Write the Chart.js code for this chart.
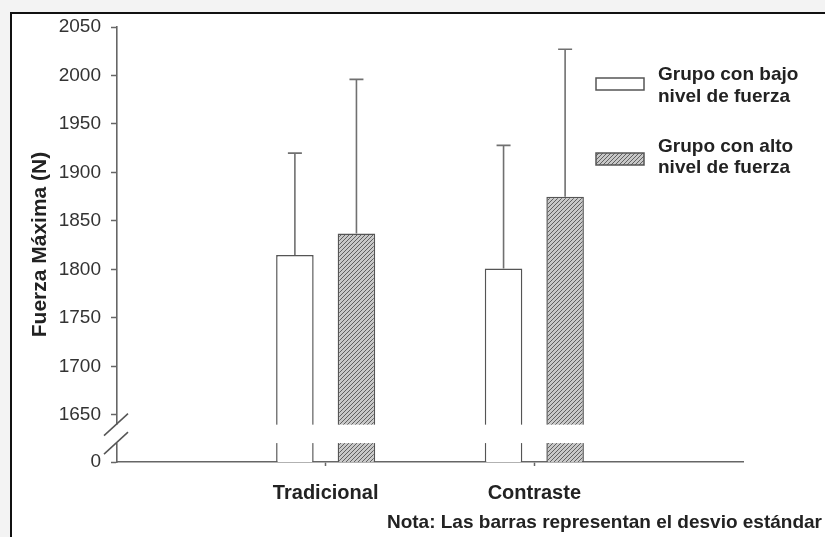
<!DOCTYPE html>
<html>
<head>
<meta charset="utf-8">
<script src="https://cdn.jsdelivr.net/npm/chart.js@4/dist/chart.umd.min.js"></script>
<style>
  html, body { margin: 0; padding: 0; background: #f3f3f3; }
  #frame { position: absolute; left: 10px; top: 12px; width: 830px; height: 540px;
           background: #ffffff; border-left: 2px solid #111; border-top: 2px solid #111; }
  #wrap { position: absolute; left: 0; top: 0; width: 825px; height: 537px; }
</style>
</head>
<body>
<div id="frame"></div>
<div id="wrap"><canvas id="c" width="825" height="537"></canvas></div>
<script>
// ---- data ----
const categories = ['Tradicional', 'Contraste'];
const seriesNames = ['Grupo con bajo nivel de fuerza', 'Grupo con alto nivel de fuerza'];
const legendLines = [['Grupo con bajo', 'nivel de fuerza'], ['Grupo con alto', 'nivel de fuerza']];
const bajoValues = [1815, 1801];
const altoValues = [1837, 1875];
const bajoSD = [105, 127];
const altoSD = [159, 152];
const yTickValues = [1650, 1700, 1750, 1800, 1850, 1900, 1950, 2000, 2050];
const axisFloor = 1601.5;      // value position that is labelled "0" (broken axis)
const breakRange = [1621, 1640]; // broken band of the axis / bars
const noteText = 'Nota: Las barras representan el desvio estándar';
const yTitle = 'Fuerza Máxima (N)';

// ---- hatch pattern ----
function makeHatch() {
  const p = document.createElement('canvas');
  p.width = 4; p.height = 4;
  const g = p.getContext('2d');
  g.fillStyle = '#c8c8c8';
  g.fillRect(0, 0, 4, 4);
  g.strokeStyle = '#606060';
  g.lineWidth = 1.0;
  g.beginPath();
  g.moveTo(-1, 5); g.lineTo(5, -1);
  g.moveTo(-1, 1); g.lineTo(1, -1);
  g.moveTo(3, 5); g.lineTo(5, 3);
  g.stroke();
  return document.getElementById('c').getContext('2d').createPattern(p, 'repeat');
}
const hatch = makeHatch();

const labels = [''].concat(categories, ['']);
const pad = arr => [null].concat(arr, [null]);
const sdSets = [pad(bajoSD), pad(altoSD)];

const FONT = "'Liberation Sans', Arial, sans-serif";

const extrasPlugin = {
  id: 'extras',
  afterDatasetsDraw(chart) {
    const ctx = chart.ctx;
    const y = chart.scales.y;
    const area = chart.chartArea;
    ctx.save();
    // error bars (upward only)
    chart.data.datasets.forEach((ds, di) => {
      const meta = chart.getDatasetMeta(di);
      meta.data.forEach((bar, i) => {
        const v = ds.data[i];
        if (v == null) return;
        const top = y.getPixelForValue(v + sdSets[di][i]);
        const base = y.getPixelForValue(v);
        ctx.strokeStyle = '#707070';
        ctx.lineWidth = 1.6;
        ctx.beginPath();
        ctx.moveTo(bar.x, base);
        ctx.lineTo(bar.x, top);
        ctx.moveTo(bar.x - 7, top);
        ctx.lineTo(bar.x + 7, top);
        ctx.stroke();
      });
    });
    // axis break band
    const yHi = y.getPixelForValue(breakRange[1]);
    const yLo = y.getPixelForValue(breakRange[0]);
    ctx.fillStyle = '#ffffff';
    ctx.fillRect(area.left - 2, yHi, area.right - area.left + 2, yLo - yHi);
    ctx.strokeStyle = '#555';
    ctx.lineWidth = 1.5;
    [yHi, yLo].forEach(py => {
      ctx.beginPath();
      ctx.moveTo(area.left - 13, py + 11);
      ctx.lineTo(area.left + 11, py - 11);
      ctx.stroke();
    });
    // legend
    const boxes = [{fill: '#ffffff', y: 78, ty: [75, 97]}, {fill: hatch, y: 153, ty: [147, 168]}];
    boxes.forEach((b, k) => {
      ctx.fillStyle = b.fill;
      ctx.fillRect(596, b.y, 48, 12);
      ctx.strokeStyle = '#555';
      ctx.lineWidth = 1.5;
      ctx.strokeRect(596, b.y, 48, 12);
      ctx.fillStyle = '#222';
      ctx.font = 'bold 19px ' + FONT;
      ctx.textAlign = 'left';
      ctx.textBaseline = 'middle';
      legendLines[k].forEach((t, j) => ctx.fillText(t, 658, b.ty[j]));
    });
    // note
    ctx.font = 'bold 19px ' + FONT;
    ctx.textAlign = 'right';
    ctx.textBaseline = 'middle';
    ctx.fillStyle = '#222';
    ctx.fillText(noteText, 822, 523);
    ctx.restore();
  }
};

new Chart(document.getElementById('c'), {
  type: 'bar',
  data: {
    labels: labels,
    datasets: [
      { label: seriesNames[0], data: pad(bajoValues), backgroundColor: '#ffffff',
        borderColor: '#555', borderWidth: 1.5, borderSkipped: 'start' },
      { label: seriesNames[1], data: pad(altoValues), backgroundColor: hatch,
        borderColor: '#555', borderWidth: 1.5, borderSkipped: 'start' }
    ]
  },
  options: {
    responsive: false,
    animation: false,
    events: [],
    categoryPercentage: 0.59,
    barPercentage: 0.61,
    layout: { padding: { left: 0, top: 27, right: 82, bottom: 35 } },
    plugins: { legend: { display: false }, tooltip: { enabled: false }, title: { display: false } },
    scales: {
      x: {
        type: 'category',
        offset: false,
        grid: { display: true, drawOnChartArea: false, offset: false, tickLength: 4,
                tickColor: c => (c.index === 0 || c.index === labels.length - 1) ? 'rgba(0,0,0,0)' : '#666',
                tickWidth: 1.5 },
        border: { display: true, color: '#666', width: 1.6 },
        ticks: { color: '#222', font: { family: FONT, size: 20, weight: 'bold' }, padding: 15,
                 autoSkip: false, maxRotation: 0,
                 callback: function(v, i) { return labels[i]; } },
        afterFit: s => { s.height = 40; }
      },
      y: {
        type: 'linear',
        min: axisFloor,
        max: 2050,
        afterBuildTicks: s => { s.ticks = [{ value: axisFloor }].concat(yTickValues.map(v => ({ value: v }))); },
        grid: { display: true, drawOnChartArea: false, tickLength: 6, tickColor: '#666', tickWidth: 1.5 },
        border: { display: true, color: '#666', width: 1.6 },
        ticks: { color: '#333', font: { family: FONT, size: 19 }, padding: 10,
                 callback: v => (v === axisFloor ? '0' : String(v)) },
        title: { display: true, text: yTitle, color: '#222',
                 font: { family: FONT, size: 21, weight: 'bold' }, padding: { top: 28, bottom: 0 } },
        afterFit: s => { s.width = 117; }
      }
    }
  },
  plugins: [extrasPlugin]
});
</script>
</body>
</html>
